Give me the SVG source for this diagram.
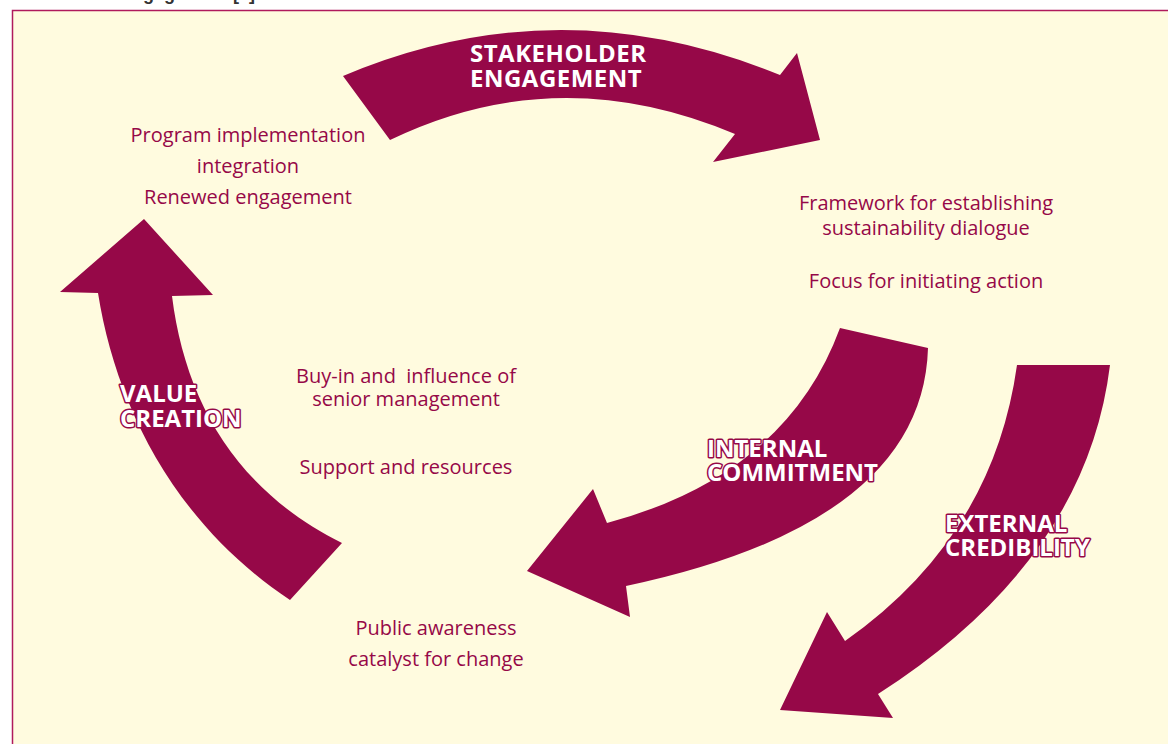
<svg xmlns="http://www.w3.org/2000/svg" width="1168" height="744" viewBox="0 0 1168 744">
<style>
.arrow{fill:#960848;stroke:none}
.txt{font-family:"Open Sans","Liberation Sans",sans-serif;font-size:20px;fill:#960848;text-anchor:middle}
.lbl{font-family:"Open Sans","Liberation Sans",sans-serif;font-size:24px;font-weight:700;fill:#ffffff;stroke:#960848;stroke-width:3;paint-order:stroke;stroke-linejoin:round}
.lbl2{font-family:"Open Sans","Liberation Sans",sans-serif;font-size:24px;font-weight:700;fill:#ffffff;letter-spacing:0.5px}
</style>
<rect x="0" y="0" width="1168" height="744" fill="#ffffff"/>
<text x="14" y="0" font-family="Liberation Sans, sans-serif" font-size="18" font-weight="700" fill="#333333">Stakeholder engagement [..]</text>
<rect x="12.5" y="10.5" width="1170" height="760" fill="#FFFBDF" stroke="#b01a5c" stroke-width="1.5"/>
<g id="connectors">
</g>
<g id="stakeholder-engagement">
<path class="arrow" d="M 343,76 Q 558.5,-15.5 780,75 L 797,53 L 820,140 L 713,162 L 735,134 Q 557.5,59 390,140 Z"/>
<text class="lbl2" x="470" y="62">STAKEHOLDER</text>
<text class="lbl2" x="470" y="87">ENGAGEMENT</text>
</g>
<g id="internal-commitment">
<path class="arrow" d="M 840,328 L 928,348 Q 923,523 626,586 L 630,617 L 527,571 L 593,489 L 607,523 Q 786,475 840,328 Z"/>
<text class="lbl" x="707" y="457">INTERNAL</text>
<text class="lbl" x="707" y="481">COMMITMENT</text>
</g>
<g id="external-credibility">
<path class="arrow" d="M 1017,365 L 1110,365 Q 1086,560.5 878,694 L 893,718 L 780,710 L 827,612 L 845,641 Q 993,537 1017,365 Z"/>
<text class="lbl" x="945" y="532">EXTERNAL</text>
<text class="lbl" x="945" y="556">CREDIBILITY</text>
</g>
<g id="value-creation">
<path class="arrow" d="M 290,600 L 342,543 C 235,490 185,400 172,296 L 213,295 L 144,219 L 60,292 L 98,293 C 115,400 170,520 290,600 Z"/>
<text class="lbl" x="120" y="402">VALUE</text>
<text class="lbl" x="120" y="427">CREATION</text>
</g>
<g id="program-text">
<text class="txt" x="248" y="142">Program implementation</text>
<text class="txt" x="248" y="173">integration</text>
<text class="txt" x="248" y="204">Renewed engagement</text>
</g>
<g id="framework-text">
<text class="txt" x="926" y="210">Framework for establishing</text>
<text class="txt" x="926" y="235">sustainability dialogue</text>
<text class="txt" x="926" y="288">Focus for initiating action</text>
</g>
<g id="buyin-text">
<text class="txt" x="406" y="383" xml:space="preserve">Buy-in and  influence of</text>
<text class="txt" x="406" y="406">senior management</text>
<text class="txt" x="406" y="474">Support and resources</text>
</g>
<g id="public-text">
<text class="txt" x="436" y="635">Public awareness</text>
<text class="txt" x="436" y="666">catalyst for change</text>
</g>
</svg>
